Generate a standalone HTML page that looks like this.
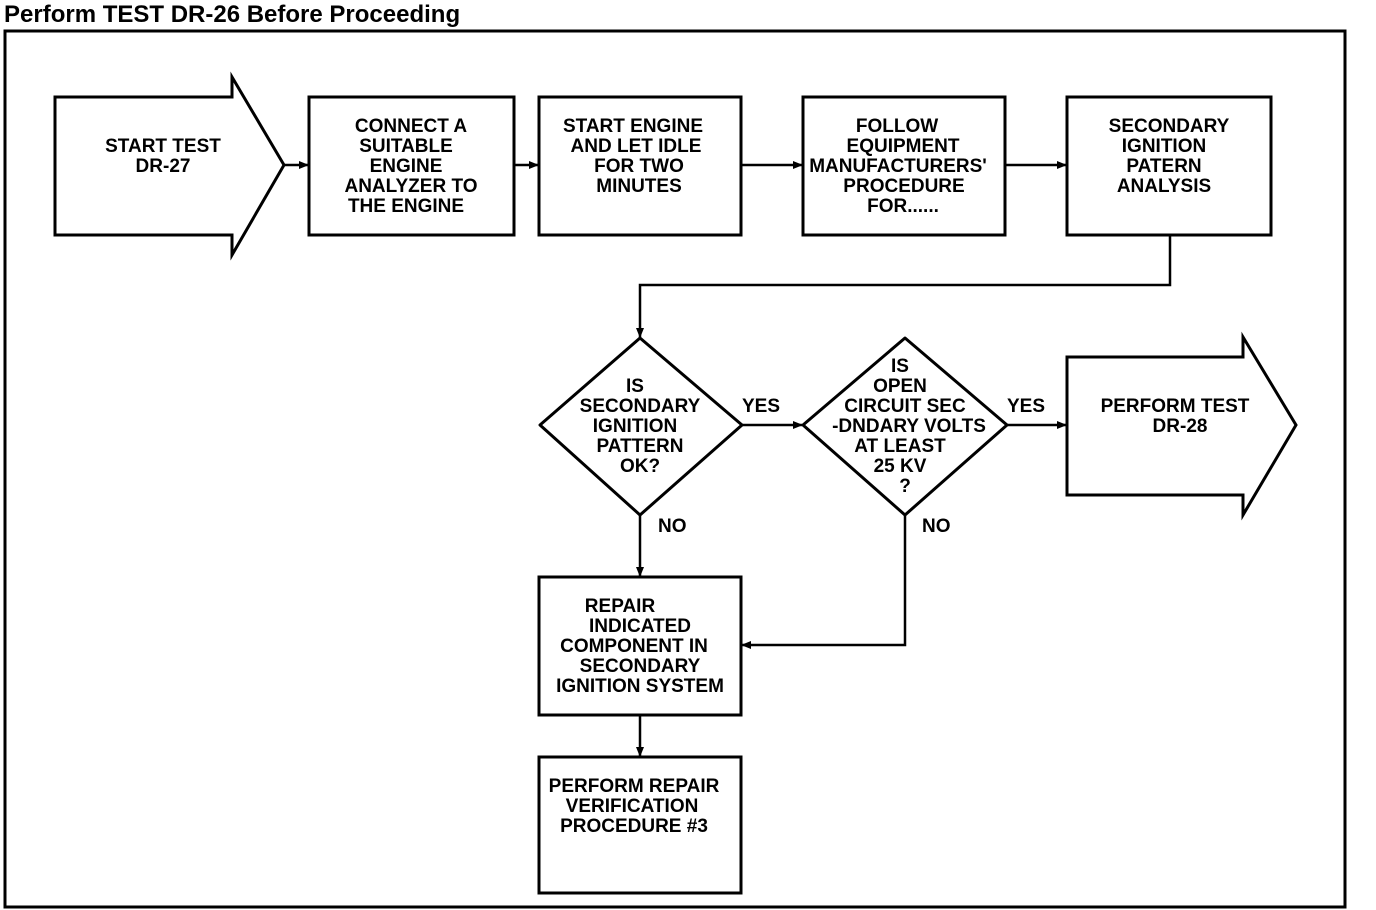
<!DOCTYPE html>
<html><head><meta charset="utf-8"><style>
html,body{margin:0;padding:0;background:#fff;}
svg{display:block;}
text{font-family:"Liberation Sans",sans-serif;font-size:19px;font-weight:bold;fill:#000;}
.t{font-size:24px;font-weight:900;}
</style></head><body>
<svg width="1376" height="910" viewBox="0 0 1376 910" xmlns="http://www.w3.org/2000/svg">
<defs><marker id="a" markerWidth="10" markerHeight="10" refX="9" refY="5" orient="auto" markerUnits="userSpaceOnUse"><path d="M0,1 L10,5 L0,9 Z" fill="#000"/></marker></defs>
<text class="t" x="4" y="22">Perform TEST DR-26 Before Proceeding</text>
<rect x="5" y="31" width="1340" height="876" fill="none" stroke="#000" stroke-width="3"/>
<g fill="none" stroke="#000" stroke-width="3">
<path d="M55,97 H232 V77 L284,165 L232,255 V235 H55 Z"/>
<rect x="309" y="97" width="205" height="138"/>
<rect x="539" y="97" width="202" height="138"/>
<rect x="803" y="97" width="202" height="138"/>
<rect x="1067" y="97" width="204" height="138"/>
<path d="M640,338 L742,425 L640,515 L540,425 Z" stroke-linejoin="round"/>
<path d="M905,338 L1007,425 L905,515 L803,425 Z" stroke-linejoin="round"/>
<path d="M1067,357 H1243 V337 L1296,425 L1243,515 V495 H1067 Z"/>
<rect x="539" y="577" width="202" height="138"/>
<rect x="539" y="757" width="202" height="136"/>
</g>
<g fill="none" stroke="#000" stroke-width="2.5" marker-end="url(#a)">
<path d="M284,165 H308"/>
<path d="M514,165 H538"/>
<path d="M741,165 H802"/>
<path d="M1005,165 H1066"/>
<path d="M1170,235 V285 H640 V337"/>
<path d="M742,425 H802"/>
<path d="M1007,425 H1066"/>
<path d="M640,515 V576"/>
<path d="M905,515 V645 H742"/>
<path d="M640,715 V756"/>
</g>
<g text-anchor="middle">
<text x="163" y="152">START TEST</text><text x="163" y="172">DR-27</text>
<text x="411" y="132">CONNECT A</text><text x="406" y="152">SUITABLE</text><text x="406" y="172">ENGINE</text><text x="411" y="192">ANALYZER TO</text><text x="406" y="212">THE ENGINE</text>
<text x="633" y="132">START ENGINE</text><text x="636" y="152">AND LET IDLE</text><text x="639" y="172">FOR TWO</text><text x="639" y="192">MINUTES</text>
<text x="897" y="132">FOLLOW</text><text x="903" y="152">EQUIPMENT</text><text x="898" y="172">MANUFACTURERS'</text><text x="904" y="192">PROCEDURE</text><text x="903" y="212">FOR......</text>
<text x="1169" y="132">SECONDARY</text><text x="1164" y="152">IGNITION</text><text x="1164" y="172">PATERN</text><text x="1164" y="192">ANALYSIS</text>
<text x="635" y="392">IS</text><text x="640" y="412">SECONDARY</text><text x="635" y="432">IGNITION</text><text x="640" y="452">PATTERN</text><text x="640" y="472">OK?</text>
<text x="900" y="372">IS</text><text x="900" y="392">OPEN</text><text x="905" y="412">CIRCUIT SEC</text><text x="909" y="432">-DNDARY VOLTS</text><text x="900" y="452">AT LEAST</text><text x="900" y="472">25 KV</text><text x="905" y="492">?</text>
<text x="1175" y="412">PERFORM TEST</text><text x="1180" y="432">DR-28</text>
<text x="620" y="612">REPAIR</text><text x="640" y="632">INDICATED</text><text x="634" y="652">COMPONENT IN</text><text x="640" y="672">SECONDARY</text><text x="640" y="692">IGNITION SYSTEM</text>
<text x="634" y="792">PERFORM REPAIR</text><text x="632" y="812">VERIFICATION</text><text x="634" y="832">PROCEDURE #3</text>
</g>
<text x="742" y="412">YES</text><text x="1007" y="412">YES</text>
<text x="658" y="532">NO</text><text x="922" y="532">NO</text>
</svg>
</body></html>
